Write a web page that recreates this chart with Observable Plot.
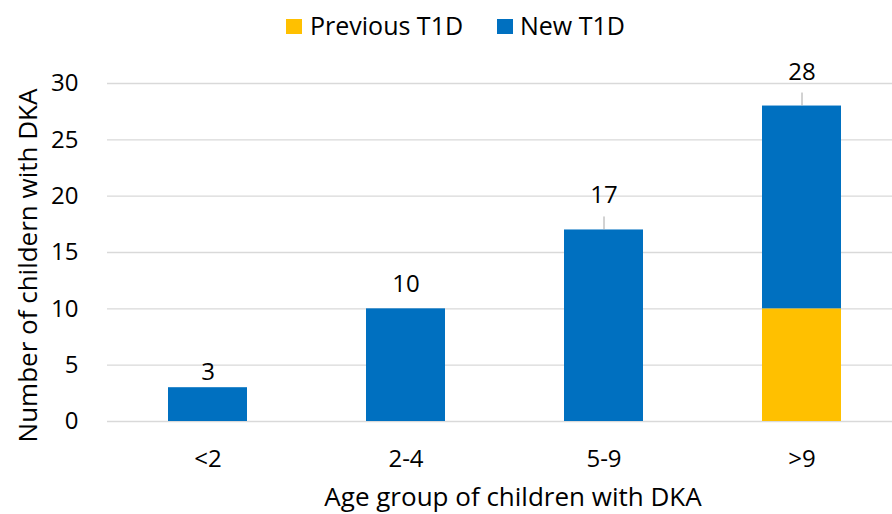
<!DOCTYPE html>
<html>
<head>
<meta charset="utf-8">
<script src="https://cdn.jsdelivr.net/npm/d3@7"></script>
<script src="https://cdn.jsdelivr.net/npm/@observablehq/plot@0.6"></script>
<style>
  html, body { margin: 0; padding: 0; background: #fff; }
  body { width: 892px; height: 514px; overflow: hidden; font-family: "Open Sans", sans-serif; }
  #legend { position: relative; height: 50px; width: 892px; }
  .sw { position: absolute; width: 16px; height: 15px; top: 19px; }
  .lt { position: absolute; top: 9px; font-size: 25px; line-height: 32px; color: #000; white-space: nowrap; }
</style>
</head>
<body>
<div id="legend"></div>
<div id="chart"></div>
<script>
const categories = ["<2", "2-4", "5-9", ">9"];
const series = ["Previous T1D", "New T1D"];
const previousT1D = [0, 0, 0, 10];
const newT1D = [3, 10, 17, 18];
const yTicks = [0, 5, 10, 15, 20, 25, 30];
const colors = ["#FFC000", "#0070C0"];
const yTitle = "Number of childern with DKA";
const xTitle = "Age group of children with DKA";

const rows = [];
categories.forEach((c, i) => {
  rows.push({cat: c, series: series[0], value: previousT1D[i]});
  rows.push({cat: c, series: series[1], value: newT1D[i]});
});
const totals = categories.map((c, i) => ({cat: c, total: previousT1D[i] + newT1D[i]}));

// legend
const legend = document.getElementById("legend");
const legendPos = [[286, 310], [497, 520]];
series.forEach((s, i) => {
  const sw = document.createElement("div");
  sw.className = "sw";
  sw.style.left = legendPos[i][0] + "px";
  sw.style.background = colors[i];
  legend.appendChild(sw);
  const t = document.createElement("div");
  t.className = "lt";
  t.style.left = legendPos[i][1] + "px";
  t.textContent = s;
  legend.appendChild(t);
});

const H = 464, mTop = 33, mBottom = 93;
const pxPerUnit = (H - mTop - mBottom) / 30;
const labelLift = [15, 25, 35, 34];
const leader = [false, false, true, true];

const labelMarks = totals.map((d, i) => Plot.text([d], {
  x: "cat", y: "total", text: d => String(d.total), dy: -labelLift[i],
  fontSize: 24, fill: "#000", lineAnchor: "middle"
}));
const leaderMarks = totals.filter((d, i) => leader[i]).map(d => Plot.ruleX([d], {
  x: "cat", y1: d => d.total, y2: d => d.total + 13 / pxPerUnit,
  stroke: "#a6a6a6", strokeWidth: 1
}));

const chart = Plot.plot({
  width: 892,
  height: H,
  marginTop: mTop,
  marginBottom: mBottom,
  marginLeft: 107,
  marginRight: 0,
  style: {fontFamily: "Open Sans, sans-serif", fontSize: "24px", color: "#000", background: "#fff", overflow: "visible"},
  x: {domain: categories, range: [107, 902], paddingInner: 0.6, paddingOuter: 0.3, label: null, tickSize: 0, tickPadding: 28},
  y: {domain: [0, 30], ticks: yTicks, label: null, tickSize: 0, tickPadding: 29},
  color: {domain: series, range: colors},
  marks: [
    Plot.ruleY(yTicks, {stroke: "#d9d9d9", strokeWidth: 1.3}),
    Plot.barY(rows, {x: "cat", y: "value", fill: "series"}),
    ...leaderMarks,
    ...labelMarks,
    Plot.text([yTitle], {frameAnchor: "left", rotate: -90, dx: -79, dy: 13, fontSize: 26, fill: "#000", textAnchor: "middle", lineAnchor: "middle"}),
    Plot.text([xTitle], {frameAnchor: "bottom", dx: 13, dy: 76, fontSize: 26, fill: "#000", lineAnchor: "middle"})
  ]
});
document.getElementById("chart").appendChild(chart);
</script>
</body>
</html>
